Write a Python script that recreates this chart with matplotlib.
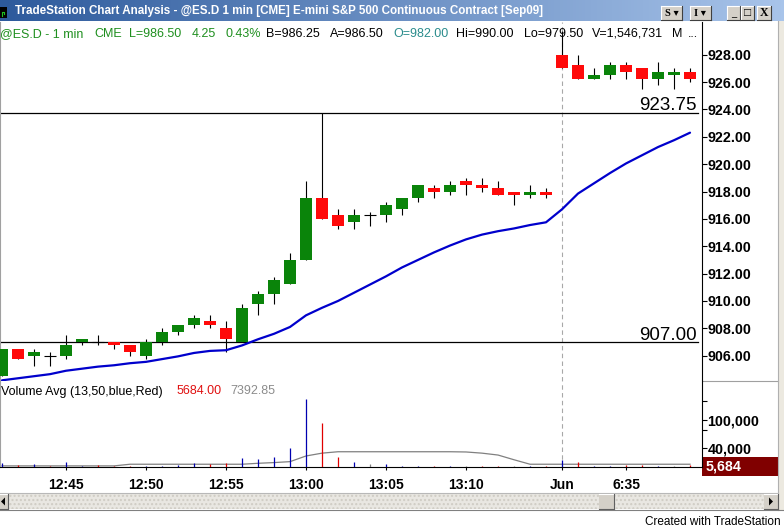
import matplotlib
matplotlib.use("Agg")
import matplotlib.pyplot as plt
import numpy as np
from matplotlib.patches import Rectangle, Polygon
from matplotlib.colors import LinearSegmentedColormap

plt.rcParams['font.family'] = ['Liberation Sans', 'DejaVu Sans']

W, H = 784, 528

# ---- data (1 min bars) ----
times = ["12:41", "12:42", "12:43", "12:44", "12:45", "12:46", "12:47", "12:48",
         "12:49", "12:50", "12:51", "12:52", "12:53", "12:54", "12:55", "12:56",
         "12:57", "12:58", "12:59", "13:00", "13:01", "13:02", "13:03", "13:04",
         "13:05", "13:06", "13:07", "13:08", "13:09", "13:10", "13:11", "13:12",
         "13:13", "13:14", "13:15",
         "6:31", "6:32", "6:33", "6:34", "6:35", "6:36", "6:37", "6:38", "6:39"]
opens = [904.5, 906.5, 906.0, 906.0, 906.0, 907.0, 907.0, 907.0, 906.75, 906.0,
         907.0, 907.75, 908.25, 908.5, 908.0, 907.0, 909.75, 910.5, 911.25, 913.0,
         917.5, 916.25, 915.75, 916.25, 916.25, 916.75, 917.5, 918.25, 918.0, 918.75,
         918.5, 918.25, 918.0, 917.75, 918.0,
         928.0, 927.25, 926.25, 926.5, 927.25, 927.0, 926.25, 926.5, 926.75]
highs = [906.5, 906.5, 906.5, 906.25, 907.5, 907.25, 907.5, 907.0, 906.75, 907.25,
         908.0, 908.25, 909.0, 909.0, 908.5, 909.75, 910.75, 911.75, 913.5, 918.75,
         923.75, 916.75, 916.75, 916.5, 917.25, 917.5, 918.5, 918.5, 918.75, 919.0,
         919.0, 918.75, 918.0, 918.5, 918.25,
         929.75, 928.0, 927.0, 927.5, 927.5, 927.0, 927.5, 927.0, 927.0]
lows = [904.5, 905.75, 905.25, 905.25, 905.75, 906.75, 906.75, 906.5, 906.0, 905.75,
        906.75, 907.5, 908.0, 908.0, 906.25, 907.0, 909.0, 909.75, 911.25, 913.0,
        916.0, 915.25, 915.25, 915.5, 915.75, 916.25, 917.25, 917.5, 917.75, 917.75,
        918.0, 917.75, 917.0, 917.5, 917.5,
        927.0, 926.25, 926.25, 926.25, 926.25, 925.5, 925.75, 925.5, 926.0]
closes = [906.5, 905.75, 906.25, 906.0, 906.75, 907.25, 907.0, 906.75, 906.25, 907.0,
          907.75, 908.25, 908.75, 908.25, 907.25, 909.5, 910.5, 911.5, 913.0, 917.5,
          916.0, 915.5, 916.25, 916.25, 917.0, 917.5, 918.5, 918.0, 918.5, 918.5,
          918.25, 917.75, 917.75, 918.0, 917.75,
          927.0, 926.25, 926.5, 927.25, 926.75, 926.25, 926.75, 926.75, 926.25]
avg_line = [904.2, 904.35, 904.5, 904.65, 904.9, 905.05, 905.2, 905.3, 905.45, 905.55,
            905.75, 905.95, 906.2, 906.35, 906.4, 906.75, 907.2, 907.6, 908.1, 908.95,
            909.5, 910.0, 910.6, 911.2, 911.8, 912.45, 913.0, 913.55, 914.05, 914.5,
            914.85, 915.1, 915.3, 915.55, 915.75,
            916.7, 917.85, 918.6, 919.35, 920.05, 920.65, 921.25, 921.75, 922.3]
volumes = [9900, 4900, 6400, 3500, 10600, 3000, 4200, 3000, 2500, 3000,
           3500, 4000, 8500, 7000, 9900, 19000, 17700, 21000, 41000, 145000,
           93000, 22000, 12000, 7400, 7400, 3000, 3000, 2500, 3000, 2500,
           2500, 2500, 2000, 2500, 2000,
           16000, 11500, 3000, 3000, 5000, 5000, 3000, 3000, 5684]
vol_avg = [3000, 3000, 3000, 3000, 3000, 3000, 3000, 3000, 6500, 6500,
           6500, 6500, 6500, 6500, 6500, 6500, 8500, 10000, 12000, 24000,
           30000, 33000, 33000, 33000, 33000, 33000, 33000, 33000, 33000, 32500,
           30000, 26000, 16000, 6500, 6500,
           6500, 6500, 6500, 6500, 6500, 6500, 6500, 6500, 6500]
session_start = 35
key_levels = [923.75, 907.00]
price_ticks = [906, 908, 910, 912, 914, 916, 918, 920, 922, 924, 926, 928]
vol_major = [40000, 100000]
vol_minor = [80000, 140000]
xtick_idx = [4, 9, 14, 19, 24, 29, 35, 39]
xtick_labels = ["12:45", "12:50", "12:55", "13:00", "13:05", "13:10", "Jun", "6:35"]

title = "TradeStation Chart Analysis - @ES.D 1 min [CME] E-mini S&P 500 Continuous Contract [Sep09]"
info = [("@ES.D - 1 min", 0, "#1f8f1f"), ("CME", 94, "#1f8f1f"), ("L=986.50", 129, "#1f8f1f"),
        ("4.25", 192, "#1f8f1f"), ("0.43%", 226, "#1f8f1f"), ("B=986.25", 266, "black"),
        ("A=986.50", 330, "black"), ("O=982.00", 393, "#2a8c8c"), ("Hi=990.00", 456, "black"),
        ("Lo=979.50", 524, "black"), ("V=1,546,731", 592, "black"), ("M", 672, "black"),
        ("...", 688, "black")]

GREEN = "#0a840a"
RED = "#ff0a0a"


def box(x0, y0, x1, y1):
    return [x0 / W, 1 - y1 / H, (x1 - x0) / W, (y1 - y0) / H]


fig = plt.figure(figsize=(W / 100, H / 100), dpi=100)
fig.patch.set_facecolor("white")

# ---- window chrome ----
chrome = fig.add_axes([0, 0, 1, 1], zorder=-1)
grad = np.linspace(0, 1, 256).reshape(1, -1)
cmap = LinearSegmentedColormap.from_list("tb", ["#2d5a9c", "#a8c4ea"])
chrome.imshow(grad, extent=(0, W, 21, 0), cmap=cmap, aspect="auto")
chrome.set_xlim(0, W)
chrome.set_ylim(H, 0)
chrome.axis("off")

chrome.add_patch(Rectangle((0, 7), 7, 11, fc="black", ec="none"))
chrome.plot([2, 2, 4, 4], [16, 12, 12, 14], color="#20c020", lw=0.8)
chrome.text(15, 11, title, color="white", fontsize=8.4, fontweight="bold", va="center")


def button(x0, x1, label, y0=6, y1=20, fs=7.5):
    chrome.add_patch(Rectangle((x0, y0), x1 - x0, y1 - y0, fc="#d4d0c8", ec="none"))
    chrome.plot([x0, x1], [y0, y0], color="white", lw=0.8)
    chrome.plot([x0, x0], [y0, y1], color="white", lw=0.8)
    chrome.plot([x0, x1], [y1, y1], color="#404040", lw=0.8)
    chrome.plot([x1, x1], [y0, y1], color="#404040", lw=0.8)
    chrome.text((x0 + x1) / 2, (y0 + y1) / 2 + 0.5, label, fontsize=fs, fontweight="bold",
                ha="center", va="center", family=["Liberation Serif", "DejaVu Sans"])


button(661, 682, "S \u25be")
button(690, 711, "I \u25be")
button(727, 740, "_")
button(741, 754, "\u25a1", fs=8.5)
button(757, 771, "X", fs=8.5)

# separator between panels and right frame
chrome.plot([0, 778], [381, 381], color="#a0a0a0", lw=0.8)
chrome.add_patch(Rectangle((778, 21), 6, 490, fc="#ece9e0", ec="none"))
chrome.plot([778, 778], [21, 510], color="#b0b0b0", lw=0.8)

# scrollbar
chrome.add_patch(Rectangle((0, 493), 778, 16, fc="#e9e7e2", ec="#cfccc4", hatch="....", lw=0))
chrome.plot([0, 778], [493, 493], color="#b8b8b8", lw=0.8)
chrome.plot([0, 784], [510, 510], color="#808080", lw=0.8)
for x0, x1 in [(0, 8), (599, 614), (764, 778)]:
    chrome.add_patch(Rectangle((x0, 494), x1 - x0, 15, fc="#d4d0c8", ec="none"))
    chrome.plot([x0, x1], [494, 494], color="white", lw=0.8)
    chrome.plot([x0, x1], [508.5, 508.5], color="#606060", lw=0.8)
    chrome.plot([x1, x1], [494, 508.5], color="#606060", lw=0.8)
chrome.add_patch(Polygon([[769, 497.5], [769, 505.5], [773, 501.5]], fc="black", ec="none"))
chrome.add_patch(Polygon([[5, 497.5], [5, 505.5], [1, 501.5]], fc="black", ec="none"))

chrome.text(781, 522, "Created with TradeStation", fontsize=8.5, ha="right", va="center")

# ---- price panel ----
xs = np.arange(len(times))
ax = fig.add_axes(box(0, 22, 701.7, 381))
ax.set_facecolor("white")
ax.set_xlim(-0.125, 43.73)
ax.set_ylim(904.15, 930.39)

ax.axvline(session_start, color="#a8a8a8", lw=0.8, ls=(0, (4, 3)), zorder=1)
for lvl in key_levels:
    ax.axhline(lvl, xmin=0, xmax=698 / 701.7, color="black", lw=0.9, zorder=2)
    ax.text(697 / 701.7, lvl + 0.18, f"{lvl:.2f}", transform=ax.get_yaxis_transform(),
            ha="right", va="baseline", fontsize=13.5, zorder=5)

ax.vlines(xs, lows, highs, color="black", lw=0.8, zorder=3)
o = np.array(opens)
c = np.array(closes)
body_w = 0.69
for i in range(len(xs)):
    if o[i] == c[i]:
        ax.hlines(o[i], xs[i] - body_w / 2, xs[i] + body_w / 2, color="black", lw=0.8, zorder=4)
    else:
        col = GREEN if c[i] > o[i] else RED
        ax.bar(xs[i], c[i] - o[i], bottom=o[i], width=body_w, color=col, lw=0, zorder=4)

ax.plot(xs, avg_line, color="#0000cc", lw=1.6, zorder=5, solid_capstyle="round")

ax.yaxis.tick_right()
ax.set_yticks(price_ticks)
ax.set_yticklabels([f"{t:.2f}" for t in price_ticks], fontsize=10.3, fontweight="bold")
ax.tick_params(axis="y", direction="out", length=3.6, width=0.8, pad=0.5, colors="black")
ax.set_xticks([])
for s in ["top", "bottom"]:
    ax.spines[s].set_visible(False)
ax.spines["left"].set_color("#a0a0a0")
ax.spines["right"].set_color("black")
ax.spines["right"].set_linewidth(0.8)

# ---- volume panel ----
vx = fig.add_axes(box(0, 381, 701.7, 467.3))
vx.set_facecolor("white")
vx.set_xlim(-0.125, 43.73)
vx.set_ylim(0, 183000)
vx.axvline(session_start, color="#a8a8a8", lw=0.8, ls=(0, (4, 3)), zorder=1)

vcols = []
for i in range(len(closes)):
    if i == 0 or closes[i] > closes[i - 1]:
        vcols.append("#0000b0")
    elif closes[i] < closes[i - 1]:
        vcols.append("#e00000")
    else:
        vcols.append("#808080")
vx.vlines(xs, 0, volumes, colors=vcols, lw=0.9, zorder=3)
vx.plot(xs, vol_avg, color="#808080", lw=0.9, zorder=2)

vx.yaxis.tick_right()
vx.set_yticks(vol_major)
vx.set_yticklabels([f"{v:,}" for v in vol_major], fontsize=10.3, fontweight="bold")
vx.set_yticks(vol_minor, minor=True)
vx.tick_params(axis="y", which="both", direction="out", length=3.6, width=0.8, pad=0.5)
vx.set_xticks(xtick_idx)
vx.set_xticklabels(xtick_labels, fontsize=10, fontweight="bold")
vx.tick_params(axis="x", direction="out", length=2.5, width=0.8, pad=5)
vx.spines["top"].set_visible(False)
vx.spines["left"].set_color("#a0a0a0")
vx.spines["right"].set_linewidth(0.8)
vx.spines["bottom"].set_linewidth(0.8)

# last volume box
chrome.add_patch(Rectangle((702, 457), 76, 18.7, fc="#800000", ec="none"))
fig.text(706 / W, 1 - 466.5 / H, f"{volumes[-1]:,}", color="white", fontsize=10.3,
         fontweight="bold", va="center")

# ---- legend texts ----
for txt, px, col in info:
    fig.text(px / W, 1 - 34 / H, txt, color=col, fontsize=9.0, va="center")
fig.text(1 / W, 1 - 391.5 / H, "Volume Avg (13,50,blue,Red)", fontsize=9.0, va="center")
fig.text(177 / W, 1 - 391.5 / H, f"{volumes[-1]:.2f}", color="#e01010", fontsize=9.0, va="center")
fig.text(230 / W, 1 - 391.5 / H, "7392.85", color="#8c8c8c", fontsize=9.0, va="center")

fig.savefig("out.png", dpi=100, facecolor="white")
